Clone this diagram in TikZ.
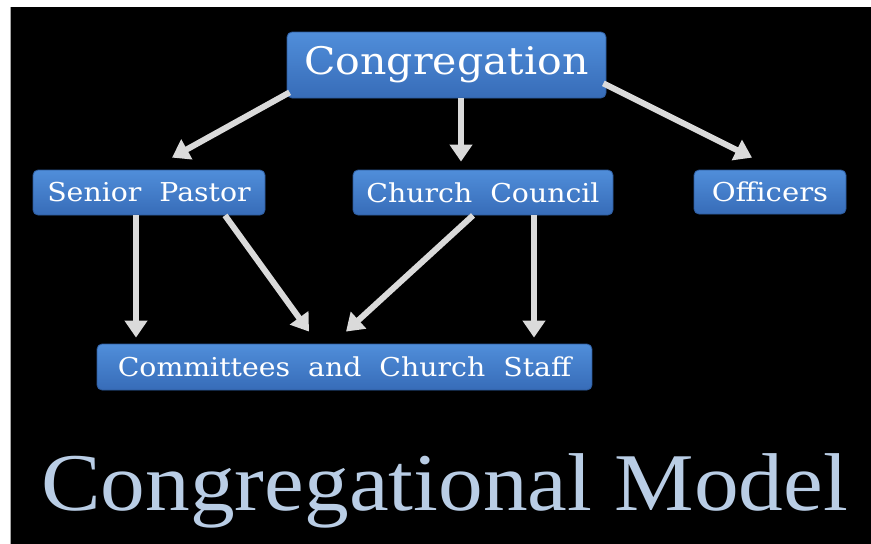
\documentclass[tikz,border=0pt]{standalone}
\usepackage{fontspec}
\usepackage{graphicx}
\setmainfont{DejaVu Serif}
\newfontfamily\titlefont{Liberation Serif}
\usetikzlibrary{arrows.meta,calc}
\definecolor{boxtop}{RGB}{80,142,218}
\definecolor{boxbot}{RGB}{55,108,184}
\definecolor{boxline}{RGB}{45,90,155}
\definecolor{arrowc}{RGB}{218,218,218}
\definecolor{titlec}{RGB}{185,205,229}
\newcommand\widetext[2]{\scalebox{#1}[1]{#2}}
\tikzset{
  bluebox/.style={rectangle, rounded corners=5pt, top color=boxtop, bottom color=boxbot,
    draw=boxline, line width=0.8pt, text=white, inner sep=0pt, align=center},
  smalltext/.style={font=\fontsize{26}{30}\selectfont},
  arr/.style={draw=arrowc, line width=6pt, -{Triangle[width=22pt,length=17pt]}}
}
\begin{document}
\begin{tikzpicture}[x=1pt,y=-1pt]
\useasboundingbox (0,0) rectangle (871,544);
\fill[white] (0,0) rectangle (871,544);
\fill[black] (10,7) rectangle (871,544);
\draw[gray!70, line width=1pt] (10,7) -- (10,544);

\node[bluebox, minimum width=319pt, minimum height=66pt, font=\fontsize{38}{44}\selectfont] (cong) at (446.5,65) {\widetext{1.08}{Congregation}};
\node[bluebox, minimum width=232pt, minimum height=45pt, smalltext] (sp) at (149,192.5) {\widetext{1.09}{Senior\ \ Pastor}};
\node[bluebox, minimum width=260pt, minimum height=45pt, smalltext] (cc) at (483,192.5) {\widetext{1.09}{Church\ \ Council}};
\node[bluebox, minimum width=152pt, minimum height=44pt, smalltext] (off) at (770,192) {\widetext{1.12}{Officers}};
\node[bluebox, minimum width=495pt, minimum height=46pt, smalltext] (comm) at (344.5,367) {\widetext{1.09}{Committees\ \ and\ \ Church\ \ Staff}};

\node[text=titlec, font=\titlefont\fontsize{82}{90}\selectfont, anchor=base west, inner sep=0pt] (title) at (41,510) {\widetext{1.09}{Congregational Model}};

\draw[arr] ([xshift=3pt,yshift=6pt]cong.south west) -- ([xshift=23pt,yshift=12pt]sp.north);
\draw[arr] ([xshift=14.5pt]cong.south) -- ([xshift=-22pt,yshift=8pt]cc.north);
\draw[arr] ([xshift=-3pt,yshift=15pt]cong.south east) -- ([xshift=-18pt,yshift=12pt]off.north);
\draw[arr] ([xshift=-13pt]sp.south) -- ([xshift=-208.5pt,yshift=6pt]comm.north);
\draw[arr] ([xshift=76pt]sp.south) -- ([xshift=-35.5pt,yshift=12pt]comm.north);
\draw[arr] ([xshift=-10pt]cc.south) -- ([xshift=1.5pt,yshift=12pt]comm.north);
\draw[arr] ([xshift=51pt]cc.south) -- ([xshift=189.5pt,yshift=6pt]comm.north);
\end{tikzpicture}
\end{document}
